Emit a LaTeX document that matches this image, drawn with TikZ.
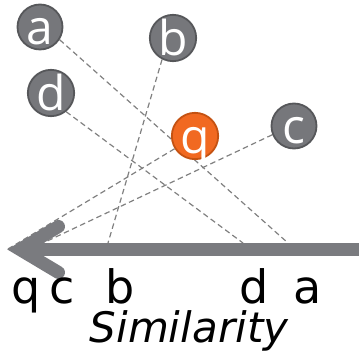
\documentclass[tikz,border=0pt]{standalone}
\usepackage{fontspec}
\setmainfont{DejaVu Sans}
\newfontfamily\ballfont{Open Sans}
\usetikzlibrary{backgrounds}
\definecolor{ballgray}{RGB}{118,119,123}
\definecolor{ballborder}{RGB}{86,87,90}
\definecolor{qorange}{RGB}{241,105,33}
\definecolor{qborder}{RGB}{196,82,18}
\definecolor{axisgray}{RGB}{122,123,127}
\definecolor{dashgray}{RGB}{128,128,128}
\tikzset{
  ball/.style={circle, draw=ballborder, fill=ballgray, line width=1.8pt,
    minimum size=45pt, inner sep=0pt, text=white,
    font=\ballfont\fontsize{48}{48}\selectfont, text height=36pt, text depth=0pt},
  qball/.style={ball, draw=qborder, fill=qorange},
  proj/.style={dashgray, line width=1.2pt, dash pattern=on 5.5pt off 3.5pt},
  axislabel/.style={anchor=base, inner sep=0pt, font=\fontsize{46}{46}\selectfont},
}
\begin{document}
\begin{tikzpicture}[x=1pt, y=-1pt]
\useasboundingbox (0,0) rectangle (359,355);
% balls
\node[ball] (a) at (40,27) {a};
\node[ball] (b) at (173,38) {b};
\node[ball] (d) at (51,93) {d};
\node[qball] (q) at (195,136) {q};
\node[ball] (c) at (294,126) {c};
% axis points
\coordinate (pa) at (288,243);
\coordinate (pd) at (243,243);
\coordinate (pb) at (108,243);
\coordinate (pc) at (43,243);
\coordinate (pq) at (8,249);
\coordinate (ax0) at (360,249.5);
\coordinate (ax1) at (20,249.5);
\coordinate (h1) at (58.5,226.5);
\coordinate (h2) at (58.5,272.5);
% projection lines
\begin{pgfonlayer}{background}
\draw[proj] (a.-33) -- (pa);
\draw[proj] (d.-51) -- (pd);
\draw[proj] (b.-117) -- (pb);
\draw[proj] (c.202) -- (pc);
\draw[proj] (q.212) -- (pq);
\end{pgfonlayer}
% axis arrow
\draw[axisgray, line width=13pt] (ax0) -- (ax1);
\draw[axisgray, line width=13pt, line cap=round, line join=miter] (h1) -- (ax1) -- (h2);
% labels
\node[axislabel] (lq) at (26,304) {q};
\node[axislabel] (lc) at (62,304) {c};
\node[axislabel] (lb) at (120,304) {b};
\node[axislabel] (ld) at (254,304) {d};
\node[axislabel] (la) at (307.5,304) {a};
\node[anchor=base, inner sep=0pt, font=\itshape\fontsize{42}{42}\selectfont] (sim) at (189,343) {Similarity};
\end{tikzpicture}
\end{document}
